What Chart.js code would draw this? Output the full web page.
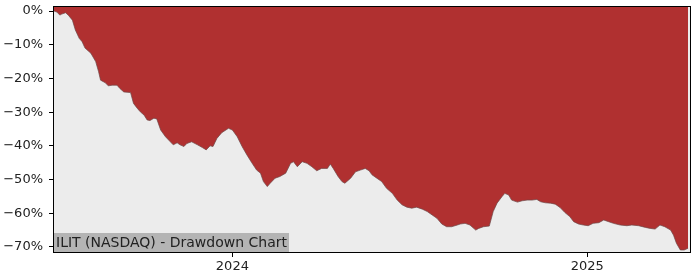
<!DOCTYPE html>
<html>
<head>
<meta charset="utf-8">
<script src="https://cdn.jsdelivr.net/npm/chart.js@4/dist/chart.umd.min.js"></script>
<style>
  html, body { margin: 0; padding: 0; background: #fff; }
  #wrap { width: 700px; height: 280px; }
</style>
</head>
<body>
<div id="wrap"><canvas id="ddChart"></canvas></div>
<script>
// Days relative to 2024-01-01
const dayOffsets = [
    -184, -181, -178, -176, -172, -169, -165, -162, -158, -155,
    -152, -146, -141, -138, -136, -131, -128, -124, -119, -116,
    -112, -105, -102, -98, -95, -91, -88, -85, -81, -78,
    -74, -69, -64, -61, -57, -54, -50, -47, -42, -36,
    -31, -27, -23, -20, -16, -11, -4, 0, 5, 10,
    15, 20, 25, 29, 32, 36, 39, 44, 49, 55,
    60, 63, 67, 72, 77, 82, 87, 92, 98, 101,
    104, 109, 113, 116, 122, 127, 132, 137, 141, 144,
    149, 154, 159, 165, 170, 175, 180, 185, 190, 196,
    201, 206, 211, 216, 221, 226, 232, 235, 240, 245,
    251, 254, 259, 265, 269, 273, 278, 281, 285, 288,
    294, 299, 304, 309, 314, 318, 323, 328, 333, 338,
    343, 348, 352, 357, 362, 367, 372, 378, 383, 388,
    393, 400, 407, 412, 419, 426, 431, 436, 441, 446,
    452, 455, 458, 462, 466, 470
];

// Drawdown in percent
const drawdown = [
    0, -0.3, -1.2, -0.9, -0.5, -1.3, -2.7, -5.6, -8.1, -9.1,
    -11.0, -12.5, -15.0, -18.0, -20.5, -21.3, -22.2, -22.0, -22.0, -23.0,
    -24.0, -24.2, -27.4, -28.9, -29.9, -30.9, -32.3, -32.5, -31.8, -32.0,
    -35.3, -37.3, -38.8, -39.7, -39.1, -39.7, -40.2, -39.3, -38.8, -39.7,
    -40.5, -41.2, -40.0, -40.2, -37.8, -36.1, -34.8, -35.3, -37.3, -40.2,
    -42.7, -45.0, -47.2, -48.1, -50.6, -52.1, -51.1, -49.6, -49.1, -48.1,
    -45.2, -44.7, -46.2, -44.7, -45.2, -46.2, -47.4, -46.7, -46.7, -45.4,
    -46.7, -49.1, -50.6, -51.1, -49.6, -47.7, -47.2, -46.7, -47.4, -48.6,
    -49.6, -50.6, -52.6, -54.1, -56.1, -57.5, -58.2, -58.5, -58.2, -58.8,
    -59.5, -60.5, -61.5, -63.2, -64.0, -64.0, -63.5, -63.2, -63.0, -63.5,
    -65.0, -64.5, -64.0, -63.8, -59.5, -57.0, -55.1, -54.1, -54.6, -56.1,
    -56.7, -56.3, -56.1, -56.1, -55.9, -56.6, -56.9, -57.0, -57.3, -58.3,
    -59.8, -61.0, -62.5, -63.2, -63.5, -63.7, -63.0, -62.8, -62.0, -62.5,
    -63.0, -63.5, -63.7, -63.5, -63.7, -64.2, -64.5, -64.7, -63.5, -64.0,
    -65.0, -66.5, -68.9, -70.9, -70.9, -70.4
];

// Axis ticks
const xTickValues = [0, 366];
const xTickLabels = ['2024', '2025'];
const yTickValues = [0, -10, -20, -30, -40, -50, -60, -70];

const chartTitle = 'ILIT (NASDAQ) - Drawdown Chart';

const points = dayOffsets.map((d, i) => ({ x: d, y: drawdown[i] }));

// Grey plot background, black frame and the label box
const framePlugin = {
    id: 'frame',
    beforeDraw(chart) {
        const { ctx, chartArea: a } = chart;
        ctx.save();
        ctx.fillStyle = '#ececec';
        ctx.fillRect(a.left, a.top, a.right - a.left, a.bottom - a.top);
        ctx.restore();
    },
    afterDraw(chart) {
        const { ctx, chartArea: a } = chart;
        ctx.save();
        ctx.font = '14px "DejaVu Sans"';
        const w = ctx.measureText(chartTitle).width;
        ctx.fillStyle = '#b4b4b4';
        ctx.fillRect(a.left, a.bottom - 19, w + 4, 19);
        ctx.fillStyle = '#222';
        ctx.textBaseline = 'alphabetic';
        ctx.fillText(chartTitle, a.left + 2, a.bottom - 5);
        ctx.strokeStyle = '#000';
        ctx.lineWidth = 1;
        ctx.strokeRect(a.left - 0.5, a.top - 0.5, a.right - a.left + 1, a.bottom - a.top + 1);
        ctx.restore();
    }
};

const ctx = document.getElementById('ddChart').getContext('2d');
const ddChart = new Chart(ctx, {
    type: 'line',
    data: {
        datasets: [{
            data: points,
            borderColor: 'rgba(110,70,70,0.7)',
            borderWidth: 1,
            backgroundColor: '#b03030',
            fill: 'end',
            pointRadius: 0,
            tension: 0
        }]
    },
    options: {
        responsive: true,
        maintainAspectRatio: false,
        animation: false,
        layout: { padding: { top: 7, right: 10, left: 0, bottom: 0 } },
        plugins: {
            legend: { display: false },
            tooltip: { enabled: false }
        },
        scales: {
            x: {
                type: 'linear',
                min: -184,
                max: 472,
                afterBuildTicks: (scale) => {
                    scale.ticks = xTickValues.map(v => ({ value: v }));
                },
                afterFit: (scale) => {
                    scale.height = 28;
                    scale.paddingLeft = 0;
                    scale.paddingRight = 0;
                },
                ticks: {
                    callback: (v) => xTickLabels[xTickValues.indexOf(v)],
                    color: '#222',
                    font: { family: 'DejaVu Sans', size: 13 },
                    padding: 2,
                    maxRotation: 0
                },
                grid: { drawOnChartArea: false, drawTicks: true, tickLength: 5, color: '#000' },
                border: { display: false }
            },
            y: {
                min: -71.5,
                max: 1.2,
                afterBuildTicks: (scale) => {
                    scale.ticks = yTickValues.map(v => ({ value: v }));
                },
                afterFit: (scale) => {
                    scale.width = 54;
                    scale.paddingTop = 0;
                    scale.paddingBottom = 0;
                },
                ticks: {
                    callback: (v) => (v < 0 ? '\u2212' + Math.abs(v) : v) + '%',
                    color: '#222',
                    font: { family: 'DejaVu Sans', size: 13 },
                    padding: 6
                },
                grid: { drawOnChartArea: false, drawTicks: true, tickLength: 5, color: '#000' },
                border: { display: false }
            }
        }
    },
    plugins: [framePlugin]
});
</script>
</body>
</html>
